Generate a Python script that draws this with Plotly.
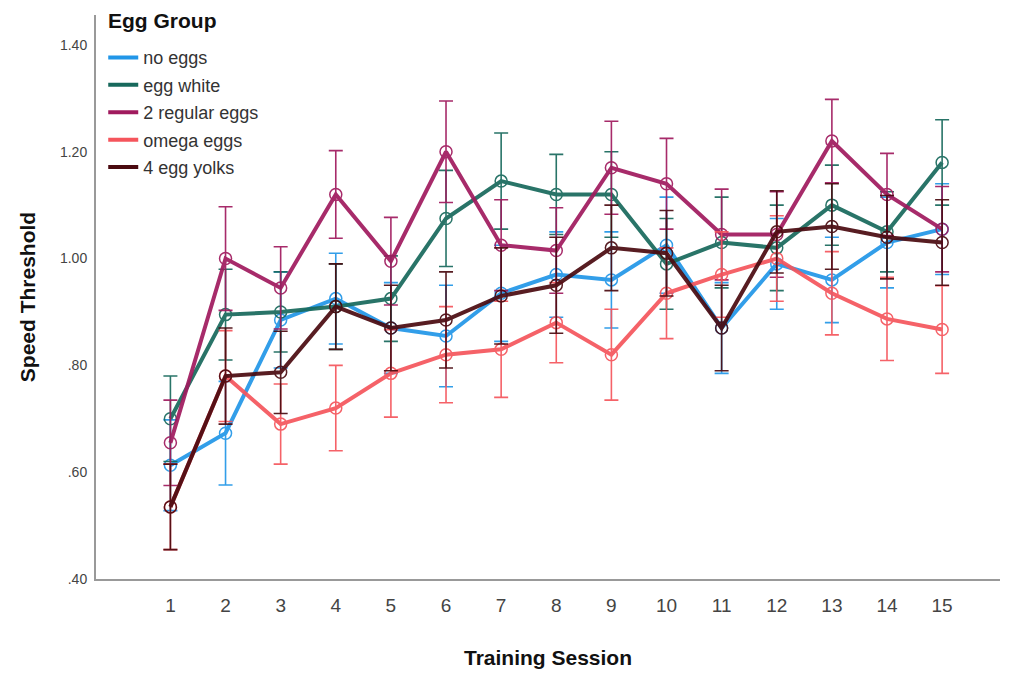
import plotly.graph_objects as go

sessions = list(range(1, 16))
group_names = ["no eggs", "egg white", "2 regular eggs", "omega eggs", "4 egg yolks"]
colors = ["#2196e8", "#17695c", "#a01a5e", "#f5555c", "#4a0a10"]

no_eggs = [0.613, 0.673, 0.885, 0.925, 0.870, 0.855, 0.935, 0.970, 0.960, 1.025, 0.870, 0.990, 0.960, 1.030, 1.055]
no_eggs_err = [0.085, 0.097, 0.090, 0.085, 0.085, 0.095, 0.090, 0.080, 0.090, 0.090, 0.085, 0.085, 0.080, 0.085, 0.085]

egg_white = [0.700, 0.895, 0.900, 0.910, 0.925, 1.075, 1.145, 1.120, 1.120, 0.990, 1.030, 1.020, 1.100, 1.050, 1.180]
egg_white_err = [0.080, 0.085, 0.075, 0.080, 0.080, 0.090, 0.090, 0.075, 0.080, 0.085, 0.085, 0.080, 0.075, 0.075, 0.080]

regular_eggs = [0.655, 1.000, 0.945, 1.120, 0.995, 1.200, 1.025, 1.015, 1.170, 1.140, 1.045, 1.045, 1.220, 1.120, 1.055]
regular_eggs_err = [0.080, 0.097, 0.077, 0.082, 0.082, 0.095, 0.085, 0.080, 0.087, 0.085, 0.085, 0.080, 0.078, 0.077, 0.080]

omega_eggs = [0.535, 0.780, 0.690, 0.720, 0.785, 0.820, 0.830, 0.880, 0.820, 0.935, 0.970, 1.000, 0.935, 0.887, 0.867]
omega_eggs_err = [0.080, 0.085, 0.075, 0.080, 0.082, 0.090, 0.090, 0.075, 0.085, 0.085, 0.080, 0.080, 0.078, 0.078, 0.082]

egg_yolks = [0.535, 0.780, 0.787, 0.910, 0.870, 0.885, 0.930, 0.950, 1.020, 1.010, 0.870, 1.050, 1.060, 1.040, 1.030]
egg_yolks_err = [0.080, 0.090, 0.077, 0.080, 0.080, 0.090, 0.090, 0.090, 0.080, 0.080, 0.080, 0.077, 0.080, 0.078, 0.080]

y_tick_vals = [0.40, 0.60, 0.80, 1.00, 1.20, 1.40]
y_tick_text = [".40", ".60", ".80", "1.00", "1.20", "1.40"]

series = [no_eggs, egg_white, regular_eggs, omega_eggs, egg_yolks]
errors = [no_eggs_err, egg_white_err, regular_eggs_err, omega_eggs_err, egg_yolks_err]

sans = "Liberation Sans, Arial, sans-serif"

fig = go.Figure()
for name, col, vals, errs in zip(group_names, colors, series, errors):
    fig.add_trace(go.Scatter(
        x=sessions, y=vals, mode="lines+markers", name=name, showlegend=False,
        line=dict(color=col, width=4),
        marker=dict(symbol="circle-open", size=12, color=col, line=dict(width=1.5)),
        error_y=dict(type="data", array=errs, visible=True, color=col,
                     thickness=1.6, width=7),
        opacity=0.92,
    ))
for name, col in zip(group_names, colors):
    fig.add_trace(go.Scatter(
        x=[None], y=[None], mode="lines", name=name, legendgroup=name,
        line=dict(color=col, width=4), showlegend=True,
    ))

fig.add_annotation(
    text="<b>Egg Group</b>", xref="paper", yref="paper", x=0.011, y=0.991,
    xanchor="left", yanchor="middle", showarrow=False,
    font=dict(size=21, color="#111111", family=sans),
)

fig.update_layout(
    width=1011, height=675,
    margin=dict(l=96, r=11, t=15, b=96),
    paper_bgcolor="white", plot_bgcolor="white",
    font=dict(family=sans, color="#333333"),
    legend=dict(
        x=0.008, y=0.957, xanchor="left", yanchor="top",
        bgcolor="rgba(255,255,255,0)", font=dict(size=18, color="#333333", family=sans),
        itemwidth=30, tracegroupgap=1,
    ),
    xaxis=dict(
        range=[-0.35, 16.05], tickmode="array", tickvals=sessions,
        ticktext=[str(s) for s in sessions],
        showline=True, linecolor="#999999", linewidth=2,
        showgrid=False, zeroline=False, ticks="", automargin=False,
        ticklabelstandoff=8,
        tickfont=dict(size=19, color="#444444", family=sans),
        title=dict(text="<b>Training Session</b>", font=dict(size=21, color="#111111",
                                                             family=sans), standoff=36),
    ),
    yaxis=dict(
        range=[0.40, 1.456], tickmode="array", tickvals=y_tick_vals, ticktext=y_tick_text,
        showline=True, linecolor="#999999", linewidth=2,
        showgrid=False, zeroline=False, ticks="", automargin=False,
        ticklabelstandoff=4,
        tickfont=dict(size=14, color="#444444", family=sans),
        title=dict(text="<b>Speed Threshold</b>", font=dict(size=21, color="#111111",
                                                            family=sans), standoff=19),
    ),
)

fig.write_html("out.html", config={"displayModeBar": False},
               post_script="document.body.style.margin='0';")
